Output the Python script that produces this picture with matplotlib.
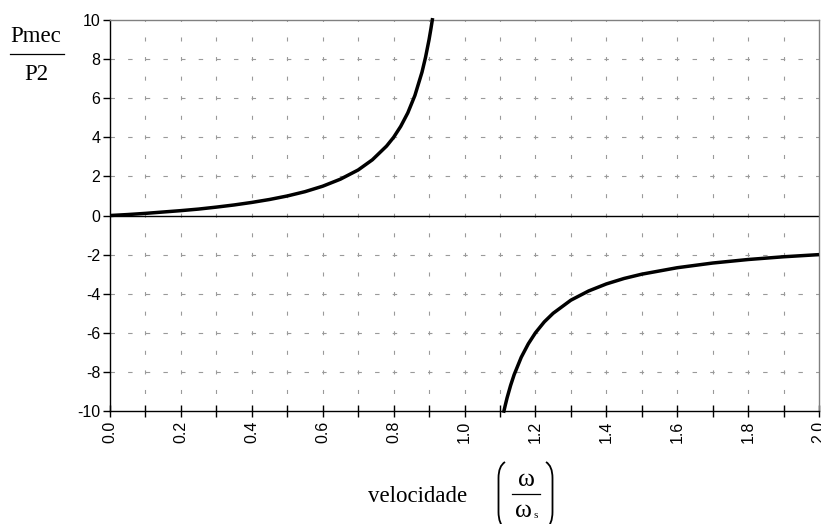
import numpy as np
import matplotlib
matplotlib.use("Agg")
import matplotlib.pyplot as plt
from matplotlib.lines import Line2D
from matplotlib.path import Path
from matplotlib.patches import PathPatch

plt.rcParams['lines.scale_dashes'] = False

# motor branch (0 < w/ws < 1)
x_motor = [0.0, 0.05, 0.1, 0.15, 0.2, 0.25, 0.3, 0.35, 0.4, 0.45, 0.5, 0.55, 0.6,
           0.65, 0.7, 0.74, 0.78, 0.8, 0.82, 0.84, 0.86, 0.88, 0.89, 0.9, 0.905, 0.91]
y_motor = [0.0, 0.05, 0.11, 0.18, 0.25, 0.33, 0.43, 0.54, 0.67, 0.82, 1.0, 1.22, 1.5,
           1.86, 2.33, 2.85, 3.55, 4.0, 4.56, 5.25, 6.14, 7.33, 8.09, 9.0, 9.53, 10.1]

# generator branch (w/ws > 1)
x_gen = [1.11, 1.115, 1.12, 1.13, 1.14, 1.16, 1.18, 1.2, 1.225, 1.25, 1.3, 1.35,
         1.4, 1.45, 1.5, 1.6, 1.7, 1.8, 1.9, 2.0]
y_gen = [-10.09, -9.70, -9.33, -8.69, -8.14, -7.25, -6.56, -6.0, -5.44, -5.0, -4.33, -3.86,
         -3.5, -3.22, -3.0, -2.67, -2.43, -2.25, -2.11, -2.0]

x_ticks = np.round(np.arange(0, 2.01, 0.1), 1)
x_labels = ['%.1f' % v if round(v * 10) % 2 == 0 else '' for v in x_ticks]
y_ticks = list(range(-10, 11, 2))

W, H = 821, 524
fig = plt.figure(figsize=(W / 100, H / 100), dpi=100)
ax = fig.add_axes([0.134, 0.2156, 0.8636, 0.7462])

ax.set_xlim(0, 2)
ax.set_ylim(-10, 10)

# grid: vertical every 0.1, horizontal every 2
for xv in x_ticks[1:-1]:
    ax.axvline(xv, color='#9a9a9a', lw=0.8, linestyle=(1.5, (2.9, 11.2)), zorder=1)
for yv in y_ticks[1:-1]:
    if yv != 0:
        ax.axhline(yv, color='#9a9a9a', lw=0.8, linestyle=(0, (3.2, 9.5)), zorder=1)
ax.axhline(0, color='black', lw=1.0, zorder=2)

ax.plot(x_motor, y_motor, color='black', lw=2.5, clip_on=False, zorder=3,
        solid_capstyle='butt')
ax.plot(x_gen, y_gen, color='black', lw=2.5, clip_on=False, zorder=3,
        solid_capstyle='butt')

ax.set_xticks(x_ticks)
ax.set_xticklabels(x_labels, rotation=90, fontsize=11.5, family='Liberation Sans')
ax.set_yticks(y_ticks)
ax.set_yticklabels([str(v) for v in y_ticks], fontsize=11.5, family='Liberation Sans')
ax.tick_params(axis='x', direction='inout', length=8, width=1, pad=3)
ax.tick_params(axis='y', direction='out', length=5, width=1, pad=2)

for s in ['left', 'bottom']:
    ax.spines[s].set_color('black')
    ax.spines[s].set_linewidth(1.0)
for s in ['top', 'right']:
    ax.spines[s].set_color('#808080')
    ax.spines[s].set_linewidth(1.0)


def fx(px):
    return px / W


def fy(py):
    return 1 - py / H


serif = 'Liberation Serif'

# y label as a fraction
fig.text(fx(36), fy(37), 'Pmec', family=serif, fontsize=16.5, ha='center', va='center')
fig.add_artist(Line2D([fx(10), fx(64)], [fy(54), fy(54)], color='black', lw=0.9))
fig.text(fx(36), fy(74), 'P2', family=serif, fontsize=16.5, ha='center', va='center')

# x label: velocidade (w / ws)
fig.text(fx(418), fy(497), 'velocidade', family=serif, fontsize=16.5,
         ha='center', va='center')
fig.text(fx(526), fy(480), '\u03c9', family=serif, fontsize=18.5, ha='center', va='center')
fig.add_artist(Line2D([fx(512), fx(540)], [fy(494), fy(494)], color='black', lw=0.9))
fig.text(fx(523), fy(511), '\u03c9', family=serif, fontsize=18.5, ha='center', va='center')
fig.text(fx(536), fy(516), 's', family=serif, fontsize=8, ha='center', va='center')

# big parentheses around the fraction
codes = [Path.MOVETO, Path.CURVE3, Path.CURVE3, Path.LINETO, Path.CURVE3, Path.CURVE3]
for x_out, x_in in [(505, 498.5), (546, 552.5)]:
    verts = [(fx(x_out), fy(462)), (fx(x_in), fy(466)), (fx(x_in), fy(478)),
             (fx(x_in), fy(512)), (fx(x_in), fy(524)), (fx(x_out), fy(529))]
    fig.add_artist(PathPatch(Path(verts, codes), fill=False, lw=1.3,
                             edgecolor='black', transform=fig.transFigure))

fig.savefig('out.png', dpi=100)
